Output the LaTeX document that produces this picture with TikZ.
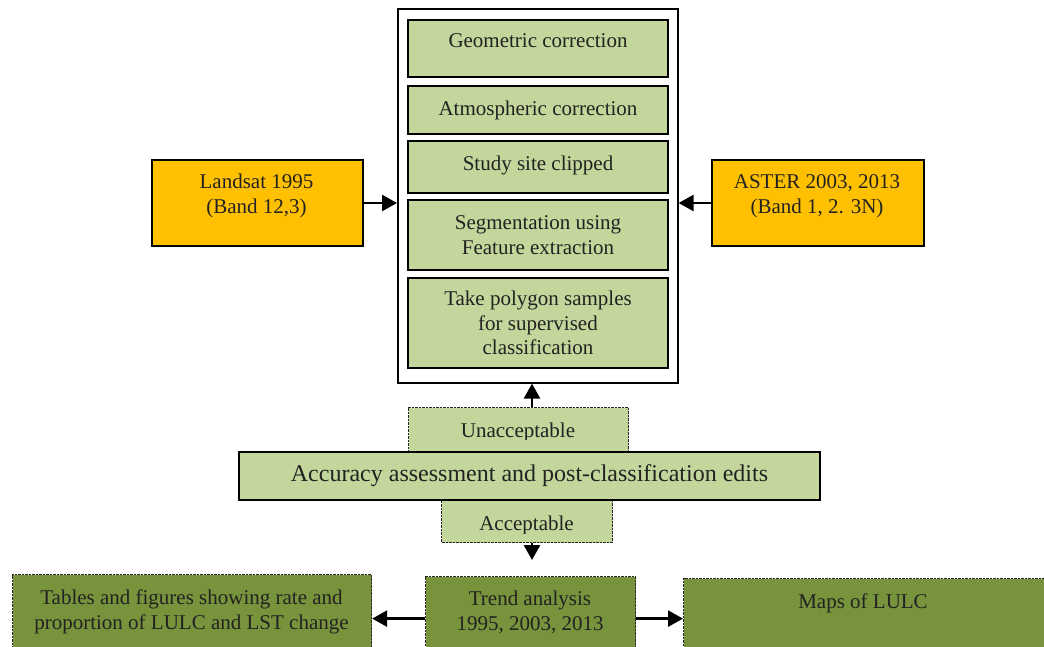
\documentclass[tikz,border=0pt]{standalone}
\usepackage{fontspec}
\setmainfont{Liberation Serif}
\usetikzlibrary{arrows.meta}
\definecolor{palegreen}{HTML}{C3D69B}
\definecolor{amber}{HTML}{FFC000}
\definecolor{olive}{HTML}{77933C}
\definecolor{ink}{HTML}{222222}
\tikzset{
  stagebox/.style={draw=black, line width=2pt, fill=palegreen, inner sep=0pt,
    anchor=north west, align=center, text=ink, font=\fontsize{21}{24.5}\selectfont},
  sourcebox/.style={draw=black, line width=2pt, fill=amber, inner sep=0pt,
    anchor=north west, text=ink},
  tagbox/.style={draw=black!85, line width=1.2pt, dash pattern=on 1pt off 0.4pt,
    fill=palegreen, inner sep=0pt, anchor=north west},
  resultbox/.style={draw=black!85, line width=1.2pt, dash pattern=on 1pt off 0.4pt,
    fill=olive, inner sep=0pt, anchor=north west},
  txt/.style={align=center, text=ink, inner sep=0pt, font=\fontsize{21}{24.5}\selectfont},
  arr/.style={line width=2.6pt, -{Triangle[length=15pt,width=16pt]}},
}
\begin{document}
\begin{tikzpicture}[x=1pt,y=-1pt]
\useasboundingbox (0,0) rectangle (1044,646);
\clip (0,0) rectangle (1044,646);

% processing frame with its stages
\node[draw=black, line width=1.6pt, fill=white, anchor=north west,
  minimum width=280pt, minimum height=374pt, inner sep=0pt] (frame) at (397,8) {};
\node[stagebox, minimum width=260pt, minimum height=57pt, text depth=15pt] (geo) at (407,19) {Geometric correction};
\node[stagebox, minimum width=260pt, minimum height=48pt] (atm) at (407,85) {Atmospheric correction};
\node[stagebox, minimum width=260pt, minimum height=52pt, text depth=8pt] (clip) at (407,140) {Study site clipped};
\node[stagebox, minimum width=260pt, minimum height=70pt] (seg) at (407,199) {Segmentation using\\Feature extraction};
\node[stagebox, minimum width=260pt, minimum height=90pt] (poly) at (407,277) {Take polygon samples\\for supervised\\classification};

% input imagery
\node[sourcebox, minimum width=211pt, minimum height=86pt] (landsat) at (151,159) {};
\node[txt] (landsatT) at (256.5,196) {Landsat 1995\\(Band 12,3)};
\node[sourcebox, minimum width=212pt, minimum height=86pt] (aster) at (711,159) {};
\node[txt] (asterT) at (817,196) {ASTER 2003, 2013\\(Band 1, 2. 3N)};

\draw[arr] (landsat.east) -- (landsat.east -| frame.west);
\draw[arr] (aster.west) -- (aster.west -| frame.east);

% accuracy assessment with its two outcomes
\node[tagbox, minimum width=220pt, minimum height=50pt] (unacc) at (408,407) {};
\begin{scope}
  \clip (408,407) rectangle (628,439);
  \node[txt] (unaccT) at (518,432) {Unacceptable};
\end{scope}
\node[tagbox, minimum width=171pt, minimum height=48pt] (acc) at (441,494) {};
\begin{scope}
  \clip (441,494) rectangle (612,533);
  \node[txt] (accT) at (526.5,525) {Acceptable};
\end{scope}
\node[draw=black, line width=2pt, fill=palegreen, anchor=north west, inner sep=0pt,
  minimum width=581pt, minimum height=48pt, text=ink, font=\fontsize{24}{28}\selectfont]
  (assess) at (238,451) {Accuracy assessment and post-classification edits};

\coordinate (axis) at (532,0);
\coordinate (down) at (532,560);
\draw[arr] (unacc.north -| axis) -- (frame.south -| axis);
\draw[arr] (acc.south -| axis) -- (down);

% outputs
\node[resultbox, minimum width=359pt, minimum height=86pt] (tables) at (12,574) {};
\node[txt, anchor=north] (tablesT) at (191.5,590) {Tables and figures showing rate and\\proportion of LULC and LST change};
\node[resultbox, minimum width=210pt, minimum height=84pt] (trend) at (425,576) {};
\node[txt, anchor=north] (trendT) at (530,591) {Trend analysis\\1995, 2003, 2013};
\node[resultbox, minimum width=380pt, minimum height=82pt] (maps) at (683,578) {};
\node[txt] (mapsT) at (863,603) {Maps of LULC};

\draw[arr] (trend.west) -- (trend.west -| tables.east);
\draw[arr] (trend.east) -- (trend.east -| maps.west);
\end{tikzpicture}
\end{document}
